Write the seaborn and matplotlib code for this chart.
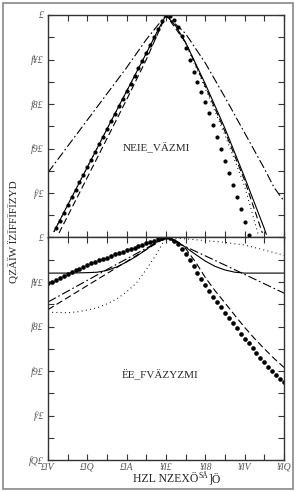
import matplotlib
matplotlib.use("Agg")
import matplotlib.pyplot as plt
from matplotlib.patches import Rectangle
from matplotlib.ticker import MultipleLocator
from matplotlib.transforms import IdentityTransform
import numpy as np
import pandas as pd
import seaborn as sns

# ---------------------------------------------------------------------------
# data
# ---------------------------------------------------------------------------
xtick_vals = [-3, -2, -1, 0, 1, 2, 3]
xtick_labels = ["£lV", "£lQ", "£lA", "¥l£", "¥l8", "¥lV", "¥lQ"]
ytick_vals_up = [0, -1, -2, -3, -4]
ytick_labels_up = ["£", "f¥£", "f8£", "f9£", "f/£"]
ytick_vals_low = [0, -1, -2, -3, -4, -5]
ytick_labels_low = ["£", "f¥£", "f8£", "f9£", "f/£", "fQ£"]

label_up = "NEIE_VÄZMI"
label_low = "ЁE_FVÄZYZMI"
ylab = "QZÄÏW ÏZÏFFÏFÏZYD"
xlab = "HZL NZEXÖ"
xlab_sup = "SÄ"
xlab_end = "]Ö"

# upper panel
solid_up_x = [-2.85, -2.5, -2.0, -1.5, -1.0, -0.5, -0.25, 0.0, 0.25, 0.5, 1.0, 1.5, 2.0, 2.5, 2.55]
solid_up_y = [-4.87, -4.27, -3.42, -2.56, -1.71, -0.86, -0.42, 0.0, -0.25, -0.62, -1.55, -2.55, -3.65, -4.8, -4.93]

dotted_up_x = [-2.85, -2.0, -1.0, -0.25, 0.0, 0.25, 0.5, 1.0, 1.5, 2.0, 2.35]
dotted_up_y = [-4.87, -3.42, -1.71, -0.42, 0.0, -0.25, -0.65, -1.65, -2.7, -3.85, -4.95]

dashed_up_x = [-2.72, -2.0, -1.0, -0.5, 0.0, 0.5, 1.0, 1.5, 2.0, 2.45]
dashed_up_y = [-4.9, -3.65, -1.9, -1.0, 0.0, -0.62, -1.6, -2.62, -3.72, -4.9]

dashdot_up_x = [-3.0, -2.0, -1.0, -0.5, 0.0, 0.5, 1.0, 1.5, 2.0, 2.5, 2.75, 3.0]
dashdot_up_y = [-3.54, -2.36, -1.18, -0.55, 0.0, -0.42, -1.08, -1.85, -2.65, -3.45, -3.88, -4.18]

dots_up_x = [-2.8, -2.7, -2.6, -2.5, -2.4, -2.3, -2.2, -2.1, -2.0, -1.9, -1.8, -1.7, -1.6, -1.5,
             -1.4, -1.3, -1.2, -1.1, -1.0, -0.9, -0.8, -0.7, -0.6, -0.5, -0.4, -0.3, -0.2, -0.1,
             0.0, 0.1, 0.2, 0.3, 0.4, 0.5, 0.6, 0.7, 0.8, 0.9, 1.0, 1.1, 1.2, 1.3, 1.4, 1.5, 1.6,
             1.7, 1.8, 1.9, 2.0, 2.1]
dots_up_y = [-4.79, -4.62, -4.45, -4.28, -4.1, -3.93, -3.76, -3.59, -3.42, -3.25, -3.08, -2.91,
             -2.74, -2.57, -2.39, -2.22, -2.05, -1.88, -1.71, -1.54, -1.37, -1.2, -1.03, -0.86,
             -0.68, -0.5, -0.32, -0.14, 0.0, -0.03, -0.12, -0.28, -0.48, -0.74, -1.02, -1.27,
             -1.5, -1.72, -1.95, -2.2, -2.47, -2.74, -3.0, -3.27, -3.54, -3.81, -4.08, -4.36,
             -4.65, -4.94]

# lower panel
solid_low_x = [-3.0, -2.5, -2.0, -1.75, -1.5, -1.25, -1.0, -0.75, -0.5, -0.25, 0.0,
               0.25, 0.5, 0.75, 1.0, 1.25, 1.5, 1.75, 2.0, 2.5, 3.0]
solid_low_y = [-0.8, -0.8, -0.79, -0.78, -0.74, -0.66, -0.55, -0.42, -0.27, -0.1, 0.0,
               -0.08, -0.22, -0.38, -0.53, -0.65, -0.73, -0.78, -0.8, -0.8, -0.8]

dotted_low_x = [-3.0, -2.5, -2.25, -2.0, -1.75, -1.5, -1.25, -1.0, -0.75, -0.5, -0.25, 0.0,
                0.5, 1.0, 1.5, 2.0, 2.5, 3.0]
dotted_low_y = [-1.68, -1.69, -1.67, -1.63, -1.58, -1.49, -1.38, -1.22, -1.02, -0.72, -0.38, 0.0,
                -0.03, -0.07, -0.11, -0.17, -0.28, -0.4]

dashed_low_x = [-3.0, -2.0, -1.0, 0.0, 0.25, 0.5, 0.75, 1.0, 1.25, 1.5, 1.75, 2.0, 2.25, 2.5,
                2.75, 3.0]
dashed_low_y = [-1.62, -1.08, -0.54, 0.0, -0.06, -0.25, -0.55, -0.9, -1.2, -1.47, -1.75, -2.02,
                -2.27, -2.5, -2.72, -2.92]

dashdot_low_x = [-3.0, -1.5, 0.0, 1.5, 3.0]
dashdot_low_y = [-1.45, -0.72, 0.0, -0.62, -1.25]

dots_low_x = [-3.0, -2.9, -2.8, -2.7, -2.6, -2.5, -2.4, -2.3, -2.2, -2.1, -2.0, -1.9, -1.8, -1.7,
              -1.6, -1.5, -1.4, -1.3, -1.2, -1.1, -1.0, -0.9, -0.8, -0.7, -0.6, -0.5, -0.4, -0.3,
              -0.2, -0.1, 0.0, 0.1, 0.2, 0.3, 0.4, 0.5, 0.6, 0.7, 0.8, 0.9, 1.0, 1.1, 1.2, 1.3,
              1.4, 1.5, 1.6, 1.7, 1.8, 1.9, 2.0, 2.1, 2.2, 2.3, 2.4, 2.5, 2.6, 2.7, 2.8, 2.9, 3.0]
dots_low_y = [-1.03, -0.99, -0.95, -0.9, -0.86, -0.82, -0.78, -0.74, -0.7, -0.66, -0.62, -0.58,
              -0.55, -0.51, -0.48, -0.45, -0.42, -0.38, -0.35, -0.32, -0.29, -0.26, -0.23, -0.19,
              -0.16, -0.13, -0.1, -0.07, -0.04, -0.02, 0.0, -0.02, -0.07, -0.15, -0.25, -0.38,
              -0.51, -0.65, -0.79, -0.93, -1.07, -1.2, -1.33, -1.45, -1.57, -1.69, -1.81, -1.93,
              -2.04, -2.16, -2.27, -2.38, -2.49, -2.6, -2.7, -2.8, -2.9, -3.0, -3.09, -3.17, -3.25]

# ---------------------------------------------------------------------------
sns.set_style("ticks")
plt.rcParams['font.family'] = ['Liberation Serif', 'DejaVu Serif']

fig = plt.figure(figsize=(2.97, 4.92), dpi=100)
W, H = 297.0, 492.0
ax_up = fig.add_axes([48 / W, 1 - 237.5 / H, 236 / W, 222.5 / H])
ax_low = fig.add_axes([48 / W, 1 - 460 / H, 236 / W, 222.5 / H])

LW = 0.8
dash_long = (0, (6, 3))
dash_dot = (0, (8, 2.5, 1.5, 2.5))
dots_small = (0, (0.8, 3))


def line(ax, x, y, ls):
    sns.lineplot(x=x, y=y, ax=ax, color="black", linewidth=LW, linestyle=ls,
                 sort=False, estimator=None)


line(ax_up, dashdot_up_x, dashdot_up_y, dash_dot)
line(ax_up, dashed_up_x, dashed_up_y, dash_long)
line(ax_up, dotted_up_x, dotted_up_y, dots_small)
line(ax_up, solid_up_x, solid_up_y, "-")
sns.scatterplot(x=dots_up_x, y=dots_up_y, ax=ax_up, color="black", s=9, linewidth=0)

line(ax_low, dashdot_low_x, dashdot_low_y, dash_dot)
line(ax_low, dashed_low_x, dashed_low_y, dash_long)
line(ax_low, dotted_low_x, dotted_low_y, dots_small)
line(ax_low, solid_low_x, solid_low_y, "-")
sns.scatterplot(x=dots_low_x, y=dots_low_y, ax=ax_low, color="black", s=11, linewidth=0)

for ax in (ax_up, ax_low):
    ax.set_xlim(-3, 3)
    ax.set_ylim(-5, 0)
    ax.xaxis.set_major_locator(MultipleLocator(1))
    ax.xaxis.set_minor_locator(MultipleLocator(0.5))
    ax.yaxis.set_major_locator(MultipleLocator(1))
    ax.yaxis.set_minor_locator(MultipleLocator(0.5))
    ax.tick_params(which="both", direction="in", top=True, right=True,
                   length=4.5, width=0.8, color="#333333", labelsize=7,
                   labelcolor="#555555", pad=3)
    for sp in ax.spines.values():
        sp.set_linewidth(1.0)
        sp.set_color("#333333")
    ax.set_xlabel("")
    ax.set_ylabel("")

ax_up.set_yticks(ytick_vals_up)
ax_up.set_yticklabels(ytick_labels_up, style="italic")
ax_up.set_xticks(xtick_vals)
ax_up.set_xticklabels([])
ax_low.set_yticks(ytick_vals_low)
ax_low.set_yticklabels(ytick_labels_low, style="italic")
ax_low.set_xticks(xtick_vals)
ax_low.set_xticklabels(xtick_labels, style="italic")
ax_low.tick_params(axis="x", pad=2)

ax_up.text(-0.25, -2.98, label_up, ha="center", va="center", fontsize=8)
ax_low.text(-0.15, -3.09, label_low, ha="center", va="center", fontsize=8)

fig.text(14 / W, 1 - 232 / H, ylab, rotation=90, ha="center", va="center", fontsize=8)

# x label in three pieces: main text, small raised part, tail on the same baseline
base_px = H - 482
t1 = fig.text(198 / W, base_px / H, xlab, ha="right", va="baseline", fontsize=8.5)
fig.canvas.draw()
r = fig.canvas.get_renderer()
bb = t1.get_window_extent(r)
t2 = fig.text(bb.x1 + 0.5, base_px + 4, xlab_sup, fontsize=5.5, va="baseline", ha="left",
              transform=IdentityTransform())
bb2 = t2.get_window_extent(r)
fig.text(bb2.x1 + 0.5, base_px, xlab_end, fontsize=8.5, va="baseline", ha="left",
         transform=IdentityTransform())

fig.patches.append(Rectangle((3 / W, 3 / H), 290 / W, 486 / H, transform=fig.transFigure,
                             fill=False, edgecolor="#888888", linewidth=1.2))

fig.savefig("out.png", dpi=100)
